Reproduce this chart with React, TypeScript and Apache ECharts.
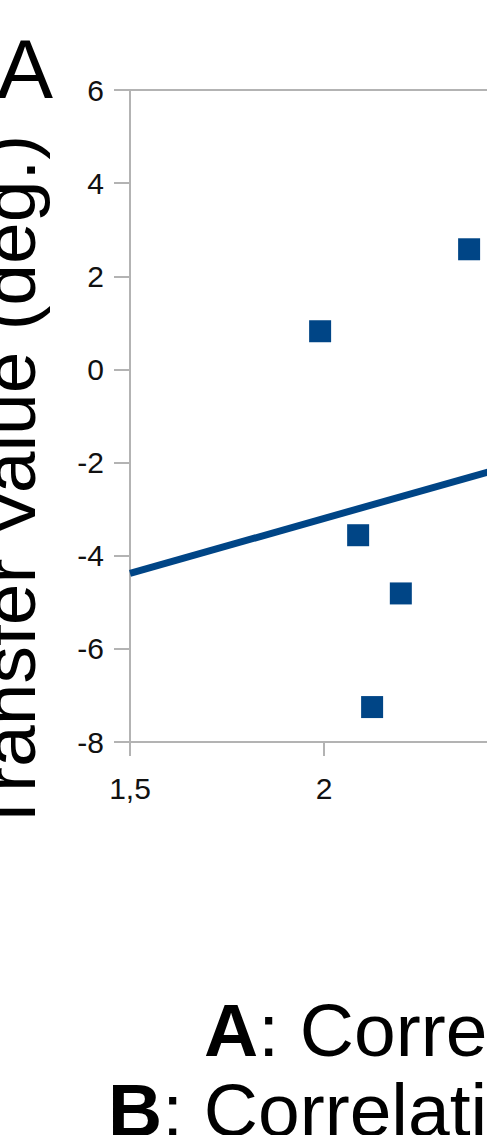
import React, { useEffect, useRef } from "react";
import * as echarts from "echarts";

const xTicks = [1.5, 2, 2.5];
const yTicks = [-8, -6, -4, -2, 0, 2, 4, 6];
const pointsX = [1.99, 2.374, 2.088, 2.198, 2.124];
const pointsY = [0.82, 2.58, -3.56, -4.81, -7.25];
const trendX = [1.5, 2.5];
const trendY = [-4.38, -2.02];
const yTitle = "Transfer Value (deg.)";
const panelLabel = "A";
const captionA = "Correlation";
const captionB = "Correlation";

const BLUE = "#004586";
const AXIS = "#b3b3b3";
const FONT = "Liberation Sans, Arial, sans-serif";

export default function App() {
  const ref = useRef<HTMLDivElement>(null);
  useEffect(() => {
    if (!ref.current) return;
    const chart = echarts.init(ref.current, null, { renderer: "svg" });
    const axisCommon = {
      axisLine: { show: true, onZero: false, lineStyle: { color: AXIS, width: 2 } },
      splitLine: { show: false },
    };
    chart.setOption({
      animation: false,
      backgroundColor: "#ffffff",
      grid: {
        left: 130,
        top: 90,
        width: 388,
        height: 652,
        containLabel: false,
        outerBoundsMode: "none",
      },
      xAxis: [
        {
          type: "value",
          min: xTicks[0],
          max: xTicks[xTicks.length - 1],
          interval: 0.5,
          ...axisCommon,
          axisTick: { show: true, length: 14, lineStyle: { color: AXIS, width: 2 } },
          axisLabel: {
            margin: 31,
            fontSize: 30,
            color: "#111",
            fontFamily: FONT,
            showMaxLabel: false,
            formatter: (v: number) => String(v).replace(".", ","),
          },
        },
        {
          type: "value",
          position: "top",
          min: xTicks[0],
          max: xTicks[xTicks.length - 1],
          ...axisCommon,
          axisTick: { show: false },
          axisLabel: { show: false },
        },
      ],
      yAxis: {
        type: "value",
        min: yTicks[0],
        max: yTicks[yTicks.length - 1],
        interval: 2,
        ...axisCommon,
        axisTick: { show: true, length: 16, lineStyle: { color: AXIS, width: 2 } },
        axisLabel: { margin: 26, fontSize: 30, color: "#111", fontFamily: FONT },
      },
      series: [
        {
          type: "line",
          data: trendX.map((x, i) => [x, trendY[i]]),
          showSymbol: false,
          symbol: "none",
          lineStyle: { color: BLUE, width: 7 },
          z: 2,
        },
        {
          type: "scatter",
          data: pointsX.map((x, i) => [x, pointsY[i]]),
          symbol: "rect",
          symbolSize: 22,
          itemStyle: { color: BLUE, opacity: 1 },
          z: 3,
        },
      ],
      graphic: [
        {
          type: "text",
          x: -3,
          y: 69,
          style: {
            text: panelLabel,
            font: `84px ${FONT}`,
            fill: "#000",
            textAlign: "left",
            textVerticalAlign: "middle",
          },
        },
        {
          type: "text",
          x: 9,
          y: 835,
          rotation: Math.PI / 2,
          style: {
            text: yTitle,
            font: `75px ${FONT}`,
            fill: "#000",
            textAlign: "left",
            textVerticalAlign: "middle",
          },
        },
        {
          type: "text",
          x: 204,
          y: 1030,
          style: {
            text: `{b|A}: ${captionA}`,
            font: `75px ${FONT}`,
            fill: "#000",
            textAlign: "left",
            textVerticalAlign: "middle",
            rich: { b: { fontWeight: "bold", fontSize: 75, fontFamily: FONT, fill: "#000" } },
          },
        },
        {
          type: "text",
          x: 108,
          y: 1110,
          style: {
            text: `{b|B}: ${captionB}`,
            font: `75px ${FONT}`,
            fill: "#000",
            textAlign: "left",
            textVerticalAlign: "middle",
            rich: { b: { fontWeight: "bold", fontSize: 75, fontFamily: FONT, fill: "#000" } },
          },
        },
      ],
    });
    return () => chart.dispose();
  }, []);
  return (
    <div
      ref={ref}
      style={{ position: "absolute", left: 0, top: 0, width: 487, height: 1135 }}
    />
  );
}
